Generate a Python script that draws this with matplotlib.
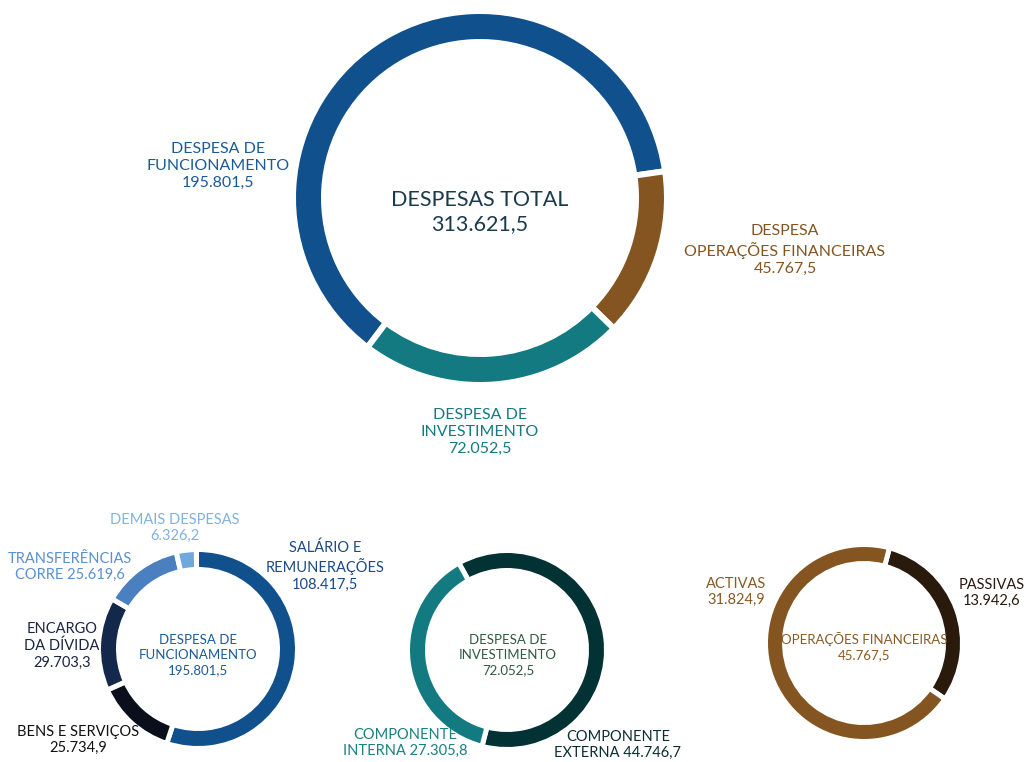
import matplotlib.pyplot as plt

plt.rcParams['font.family'] = ['Lato', 'DejaVu Sans']

W, H = 1025, 762

# main ring
total_labels = ['DESPESA DE\nFUNCIONAMENTO', 'DESPESA\nOPERAÇÕES FINANCEIRAS', 'DESPESA DE\nINVESTIMENTO']
total_values = [195801.5, 45767.5, 72052.5]
total_colors = ['#10508c', '#845520', '#127a80']
total_sum = 313621.5

# funcionamento breakdown
func_labels = ['SALÁRIO E\nREMUNERAÇÕES', 'BENS E SERVIÇOS', 'ENCARGO\nDA DÍVIDA',
               'TRANSFERÊNCIAS\nCORRE', 'DEMAIS DESPESAS']
func_values = [108417.5, 25734.9, 29703.3, 25619.6, 6326.2]
func_colors = ['#10508c', '#0b0f1c', '#13284b', '#4a80bf', '#6fa9dc']
func_text = ['#1b4a85', '#111111', '#1a2540', '#5a90cf', '#7fb2e0']

# investimento breakdown
inv_labels = ['COMPONENTE\nEXTERNA', 'COMPONENTE\nINTERNA']
inv_values = [44746.7, 27305.8]
inv_colors = ['#033235', '#127a80']
inv_text = ['#0b2e30', '#1a8080']

# operacoes financeiras breakdown
op_labels = ['PASSIVAS', 'ACTIVAS']
op_values = [13942.6, 31824.9]
op_colors = ['#2a1a0c', '#845520']
op_text = ['#2a1a0c', '#8a5a25']


def fmt(v):
    s = f'{v:,.1f}'
    return s.replace(',', 'X').replace('.', ',').replace('X', '.')


fig = plt.figure(figsize=(W / 100, H / 100), dpi=100)
ax = fig.add_axes([0, 0, 1, 1])


def ring(values, colors, center, r, thick, start, gap):
    lw = gap * 72 / 100
    ax.pie(values, colors=colors, startangle=start, counterclock=False,
           center=(center[0], H - center[1]), radius=r + gap / 2,
           wedgeprops=dict(width=thick + gap, edgecolor='white', linewidth=lw))


def label(x, y, s, color, size, ls=1.25):
    ax.text(x, H - y, s, ha='center', va='center', color=color, fontsize=size,
            linespacing=ls)


# big ring
ring(total_values, total_colors, (480, 198), 184, 25, 233, 6)
label(480, 212, 'DESPESAS TOTAL\n' + fmt(total_sum), '#1c3a4a', 15.5, 1.3)
label(218, 166, total_labels[0] + '\n' + fmt(total_values[0]), '#1a5a9a', 11.5, 1.3)
label(785, 250, total_labels[1] + '\n' + fmt(total_values[1]), '#845520', 11.5, 1.3)
label(480, 432, total_labels[2] + '\n' + fmt(total_values[2]), '#127a80', 11.5, 1.3)

# funcionamento ring
ring(func_values, func_colors, (198, 649), 97, 15, 91, 5)
label(198, 655, 'DESPESA DE\nFUNCIONAMENTO\n' + fmt(total_values[0]), '#1d5a9a', 9.5, 1.3)
label(325, 566, func_labels[0] + '\n' + fmt(func_values[0]), func_text[0], 10.5)
label(78, 740, func_labels[1] + '\n' + fmt(func_values[1]), func_text[1], 10.5)
label(62, 646, func_labels[2] + '\n' + fmt(func_values[2]), func_text[2], 10.5)
label(70, 567, func_labels[3] + ' ' + fmt(func_values[3]), func_text[3], 10.5)
label(175, 528, func_labels[4] + '\n' + fmt(func_values[4]), func_text[4], 10.5)

# investimento ring
ring(inv_values, inv_colors, (507, 650), 97, 15, 119, 5)
label(508, 655, 'DESPESA DE\nINVESTIMENTO\n' + fmt(total_values[2]), '#2f5a3e', 9.5, 1.3)
label(618, 745, inv_labels[0] + ' ' + fmt(inv_values[0]), inv_text[0], 10.5)
label(405, 743, inv_labels[1] + ' ' + fmt(inv_values[1]), inv_text[1], 10.5)

# operacoes ring
ring(op_values, op_colors, (864, 643), 96, 14, 75, 5)
label(864, 647, 'OPERAÇÕES FINANCEIRAS\n' + fmt(total_values[1]), '#8a5a25', 9.5, 1.3)
label(992, 593, op_labels[0] + '\n' + fmt(op_values[0]), op_text[0], 10.5)
label(736, 592, op_labels[1] + '\n' + fmt(op_values[1]), op_text[1], 10.5)

ax.set_xlim(0, W)
ax.set_ylim(0, H)
ax.set_aspect('equal')
ax.axis('off')

fig.savefig('out.png', dpi=100)
